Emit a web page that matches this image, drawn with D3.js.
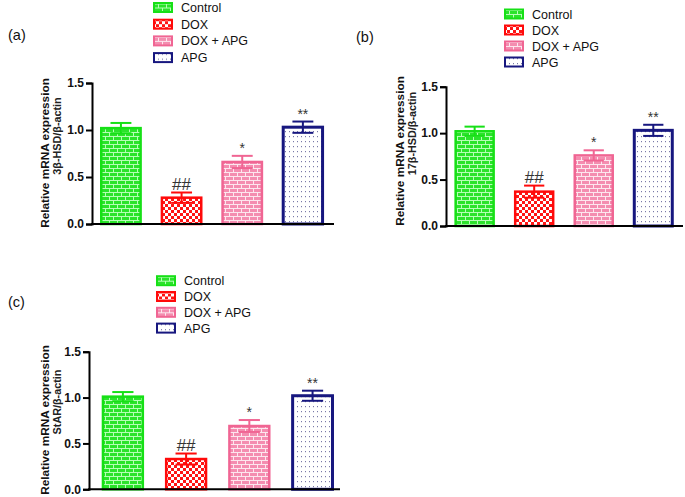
<!DOCTYPE html>
<html>
  <head>
    <title>Relative mRNA expression</title>
    <script src="https://d3js.org/d3.v7.min.js"></script>
    <style>
      body { margin: 0; background: #fff; }
      svg, svg text { font-family: "Liberation Sans", Arial, sans-serif; }
      .axis .domain, .axis .tick line { stroke: #000; stroke-width: 2px; }
      .axis .tick text { font-size: 12px; font-weight: bold; fill: #111; }
      .legend text { font-size: 12.5px; fill: #111; }
      .ylabel { font-size: 11.8px; font-weight: bold; fill: #111; }
      .ylabel2 { font-size: 10.8px; font-weight: bold; fill: #222; }
      .panel-letter { font-size: 14.5px; fill: #111; }
      .sig { fill: #333; }
    </style>
  </head>
  <body>
    <svg width="685" height="497"></svg>
    <script>
      // data
      const groups = ["Control", "DOX", "DOX + APG", "APG"];
      const panelLetters = ["(a)", "(b)", "(c)"];
      const genes = ["3\u03b2-HSD/\u03b2-actin", "17\u03b2-HSD/\u03b2-actin", "StAR/\u03b2-actin"];
      const meanA = [1.02, 0.28, 0.66, 1.03];
      const errA = [0.055, 0.055, 0.065, 0.06];
      const meanB = [1.02, 0.37, 0.76, 1.03];
      const errB = [0.05, 0.065, 0.055, 0.06];
      const meanC = [1.01, 0.33, 0.69, 1.02];
      const errC = [0.05, 0.06, 0.065, 0.055];
      const sigLabels = ["", "##", "*", "**"];
      const yTicks = [0, 0.5, 1.0, 1.5];

      const strokes = ["#16e016", "#ff0a0a", "#f06593", "#17177f"];

      // layout of each panel (pixels)
      const layout = [
        {left: 92, right: 334, y0: 224, yTop: 83, pIn: 0.31, align: 0.44,
         letter: [8, 35], lab1: [45, 153], lab2: [57, 136],
         legend: {x: 153, y: 7.5, step: 16.7}},
        {left: 446, right: 683, y0: 226, yTop: 86.7, pIn: 0.32, align: 0.47,
         letter: [356, 37], lab1: [400, 151], lab2: [412, 133.5],
         legend: {x: 504, y: 14, step: 16}},
        {left: 89, right: 340, y0: 489.3, yTop: 351.7, pIn: 0.33, align: 0.67,
         letter: [8, 302], lab1: [45, 420], lab2: [57, 402],
         legend: {x: 156, y: 280.7, step: 15.8}}
      ];
      const means = [meanA, meanB, meanC];
      const errs = [errA, errB, errC];

      const svg = d3.select("svg");
      const defs = svg.append("defs");

      function brick(id, bg, line) {
        const p = defs.append("pattern").attr("id", id)
          .attr("patternUnits", "userSpaceOnUse").attr("width", 8).attr("height", 8);
        p.append("rect").attr("width", 8).attr("height", 8).attr("fill", bg);
        const path = "M0,0.5H8M0,4.5H8M1.5,0V4M5.5,4V8";
        p.append("path").attr("d", path).attr("stroke", line).attr("stroke-width", 1).attr("fill", "none");
      }
      brick("pat0", "#2be32b", "#b6ffb6");
      const chk = defs.append("pattern").attr("id", "pat1")
        .attr("patternUnits", "userSpaceOnUse").attr("width", 6).attr("height", 6);
      chk.append("rect").attr("width", 6).attr("height", 6).attr("fill", "#ff1414");
      chk.append("rect").attr("width", 3).attr("height", 3).attr("fill", "#fff");
      chk.append("rect").attr("x", 3).attr("y", 3).attr("width", 3).attr("height", 3).attr("fill", "#fff");
      brick("pat2", "#f48db0", "#fde6ee");
      const dots = defs.append("pattern").attr("id", "pat3")
        .attr("patternUnits", "userSpaceOnUse").attr("width", 4).attr("height", 5);
      dots.append("rect").attr("width", 4).attr("height", 5).attr("fill", "#fff");
      dots.append("rect").attr("x", 1).attr("y", 1).attr("width", 1).attr("height", 1.2).attr("fill", "#7a7aa8");

      function drawPanel(i) {
        const L = layout[i];
        const data = groups.map((g, j) => ({g: g, m: means[i][j], e: errs[i][j], s: sigLabels[j], k: j}));

        const x = d3.scaleBand().domain(groups).range([L.left, L.right])
          .paddingInner(L.pIn).paddingOuter(0.15).align(L.align);
        const y = d3.scaleLinear().domain([0, 1.5]).range([L.y0, L.yTop]);

        const g = svg.append("g");

        // bars
        g.selectAll("rect.bar").data(data).enter().append("rect")
          .attr("class", "bar")
          .attr("x", d => x(d.g) + 1.25)
          .attr("y", d => y(d.m))
          .attr("width", x.bandwidth() - 2.5)
          .attr("height", d => y(0) - y(d.m))
          .attr("fill", d => `url(#pat${d.k})`)
          .attr("stroke", d => strokes[d.k])
          .attr("stroke-width", d => d.k === 3 ? 3 : 2.5);

        // error bars
        const eb = g.selectAll("g.err").data(data).enter().append("g")
          .attr("stroke", d => strokes[d.k]).attr("stroke-width", 2);
        const cx = d => x(d.g) + x.bandwidth() / 2;
        const cap = x.bandwidth() / 4;
        eb.append("line").attr("x1", cx).attr("x2", cx)
          .attr("y1", d => y(d.m - d.e)).attr("y2", d => y(d.m + d.e));
        eb.append("line").attr("x1", d => cx(d) - cap).attr("x2", d => cx(d) + cap)
          .attr("y1", d => y(d.m + d.e)).attr("y2", d => y(d.m + d.e));
        eb.append("line").attr("x1", d => cx(d) - cap).attr("x2", d => cx(d) + cap)
          .attr("y1", d => y(d.m - d.e)).attr("y2", d => y(d.m - d.e));

        // significance marks
        g.selectAll("text.sig").data(data).enter().append("text")
          .attr("class", "sig")
          .attr("x", cx)
          .attr("y", d => y(d.m + d.e) - 3)
          .attr("text-anchor", "middle")
          .style("font-size", d => d.s === "##" ? "17px" : "14px")
          .text(d => d.s);

        // axes
        g.append("g").attr("class", "axis")
          .attr("transform", `translate(${L.left},0)`)
          .call(d3.axisLeft(y).tickValues(yTicks).tickFormat(d3.format(".1f")).tickSize(6).tickPadding(2));
        g.append("line")
          .attr("x1", L.left - 1).attr("x2", L.right)
          .attr("y1", y(0)).attr("y2", y(0))
          .attr("stroke", "#000").attr("stroke-width", 2);

        // y labels
        g.append("text").attr("class", "ylabel")
          .attr("transform", `translate(${L.lab1[0]},${L.lab1[1]}) rotate(-90)`)
          .attr("text-anchor", "middle").attr("dy", "0.35em")
          .text("Relative mRNA expression");
        g.append("text").attr("class", "ylabel2")
          .attr("transform", `translate(${L.lab2[0]},${L.lab2[1]}) rotate(-90)`)
          .attr("text-anchor", "middle").attr("dy", "0.35em")
          .text(genes[i]);

        // panel letter
        g.append("text").attr("class", "panel-letter")
          .attr("x", L.letter[0]).attr("y", L.letter[1]).attr("dy", "0.35em")
          .text(panelLetters[i]);

        // legend
        const lg = g.append("g").attr("class", "legend");
        const items = lg.selectAll("g").data(data).enter().append("g")
          .attr("transform", d => `translate(${L.legend.x},${L.legend.y + d.k * L.legend.step})`);
        items.append("rect")
          .attr("x", 1).attr("y", -4.5).attr("width", 18).attr("height", 9)
          .attr("fill", d => `url(#pat${d.k})`)
          .attr("stroke", d => strokes[d.k]).attr("stroke-width", 2);
        items.append("text")
          .attr("x", 28).attr("dy", "0.36em")
          .text(d => d.g);
      }

      [0, 1, 2].forEach(drawPanel);
    </script>
  </body>
</html>
